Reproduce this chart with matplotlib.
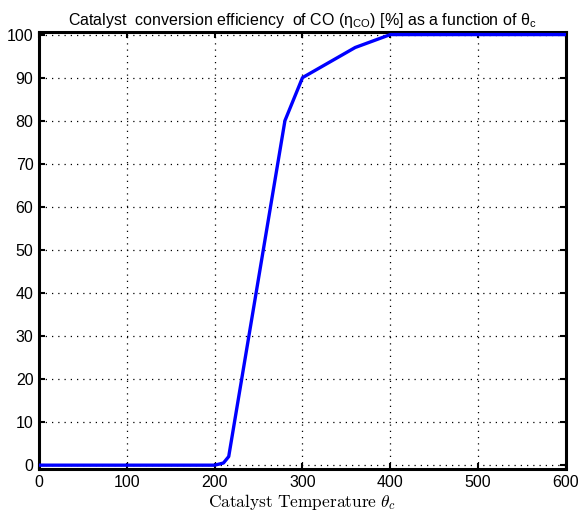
import matplotlib
matplotlib.use("Agg")
import matplotlib.pyplot as plt

# Catalyst temperature [deg C] and CO conversion efficiency [%]
theta_c = [0, 100, 200, 210, 216, 280, 300, 360, 400, 500, 600]
eta_co = [0, 0, 0, 0.5, 2, 80, 90, 97, 100, 100, 100]

x_ticks = [0, 100, 200, 300, 400, 500, 600]
y_ticks = [0, 10, 20, 30, 40, 50, 60, 70, 80, 90, 100]

plt.rcParams["font.family"] = ["Liberation Sans", "DejaVu Sans"]
plt.rcParams["mathtext.fontset"] = "custom"
plt.rcParams["mathtext.rm"] = "Liberation Sans"
plt.rcParams["mathtext.it"] = "Liberation Sans"

fig = plt.figure(figsize=(5.82, 5.16), dpi=100)
ax = fig.add_axes([0.067, 0.091, 0.9055, 0.847])

ax.plot(theta_c, eta_co, color=(0, 0, 1), linewidth=2.4, zorder=3)

ax.set_xlim(0, 600)
ax.set_ylim(-0.9, 100.6)
ax.set_xticks(x_ticks)
ax.set_yticks(y_ticks)
ax.tick_params(direction="in", top=True, right=True, length=4, width=1.5,
               labelsize=11.5, colors="black", pad=4)
ax.grid(True, linestyle=(0, (1, 4)), color="black", linewidth=0.9)
for s in ax.spines.values():
    s.set_linewidth(2.2)

ax.set_title(r"Catalyst  conversion efficiency  of CO ($\eta_{\mathrm{CO}}$) [%] as a function of $\theta_{\mathrm{c}}$",
             fontsize=11.5, pad=5)
ax.set_xlabel(r"$\mathrm{Catalyst\ Temperature}\ \theta_c$", fontsize=12.5,
              math_fontfamily="cm", labelpad=2)

fig.savefig("out.png", dpi=100)
